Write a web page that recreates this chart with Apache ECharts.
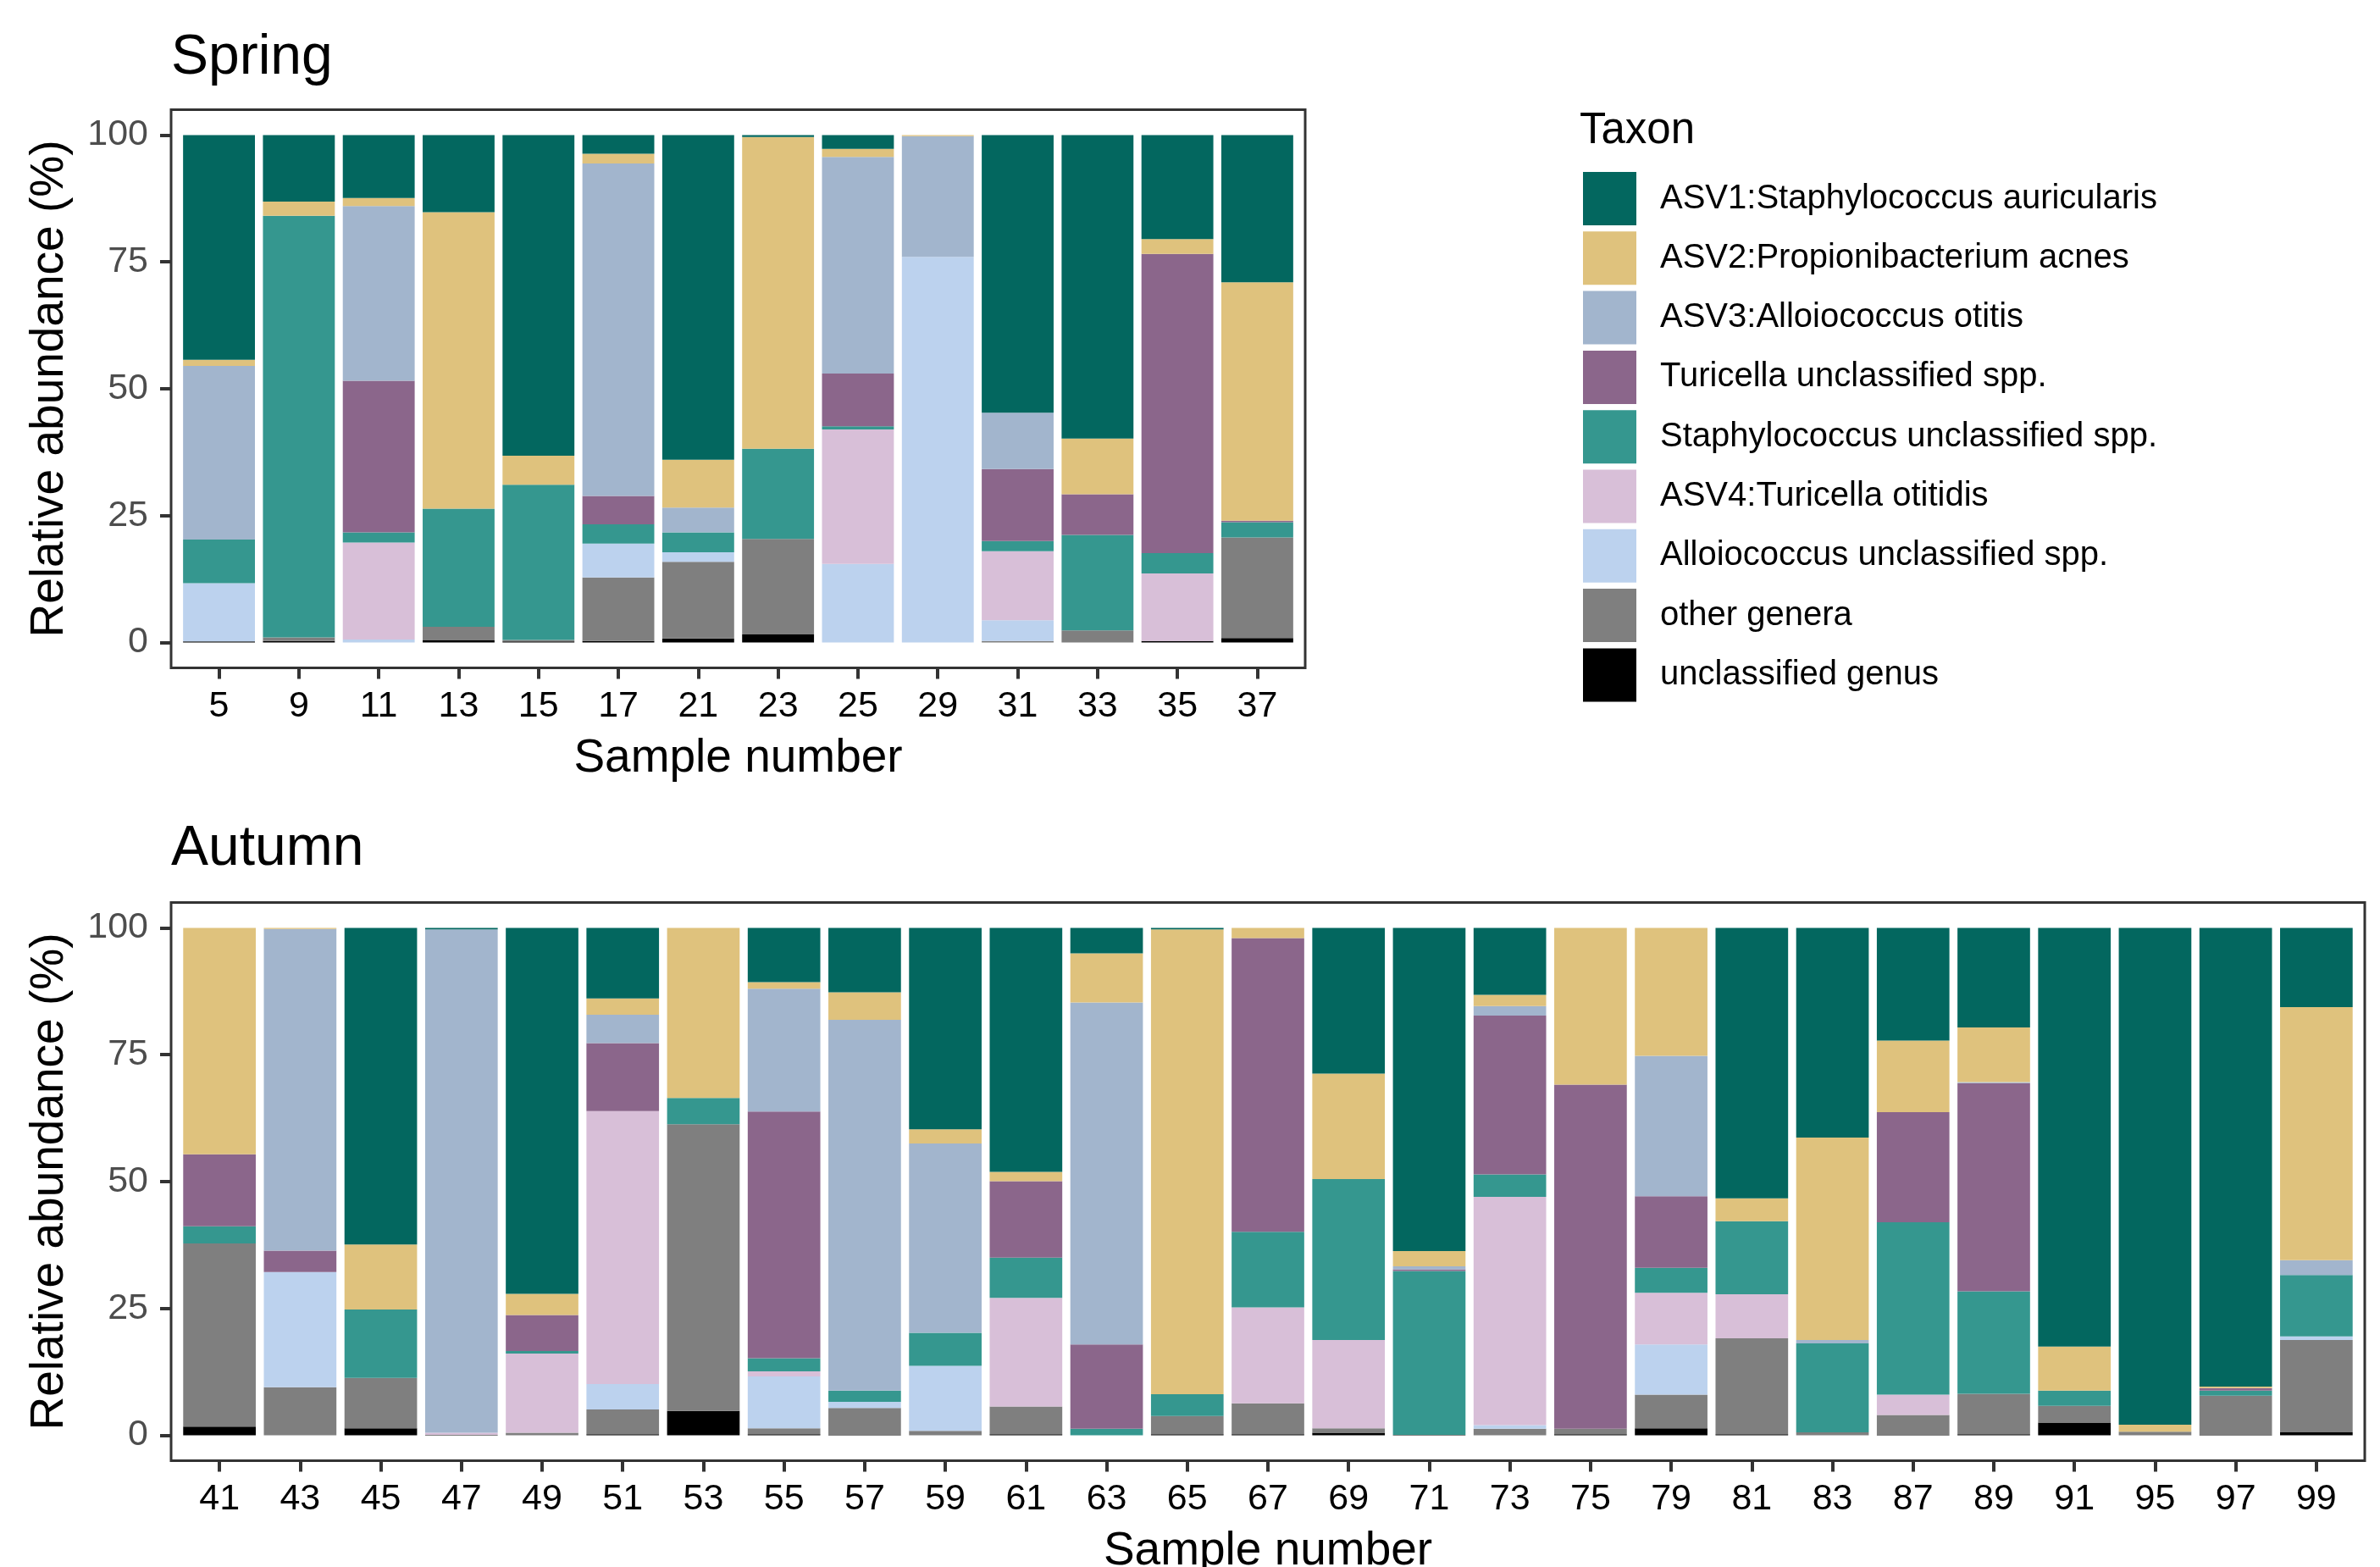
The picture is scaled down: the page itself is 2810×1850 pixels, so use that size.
<!DOCTYPE html>
<html>
<head>
<meta charset="utf-8">
<title>Relative abundance by sample</title>
<script src="https://cdn.jsdelivr.net/npm/echarts@6/dist/echarts.min.js"></script>
<style>
  html, body { margin: 0; padding: 0; background: #fff; }
  #chart { width: 2810px; height: 1850px; }
</style>
</head>
<body>
<div id="chart"></div>
<script>
// legend order (top of the bar first)
const taxa = [
  "ASV1:Staphylococcus auricularis",
  "ASV2:Propionibacterium acnes",
  "ASV3:Alloiococcus otitis",
  "Turicella unclassified spp.",
  "Staphylococcus unclassified spp.",
  "ASV4:Turicella otitidis",
  "Alloiococcus unclassified spp.",
  "other genera",
  "unclassified genus"
];
const taxonColors = ["#03675F", "#DFC27D", "#A2B5CD", "#8B668B", "#35978F", "#D8BFD8", "#BCD2EE", "#7F7F7F", "#000000"];

const springSamples = ["5", "9", "11", "13", "15", "17", "21", "23", "25", "29", "31", "33", "35", "37"];
const springAsv1      = [44.3, 13.1, 12.4, 15.2, 63.2, 3.7, 64.0, 0.4, 2.7, 0, 54.7, 59.8, 20.5, 29.0];
const springAsv2      = [1.2, 2.8, 1.6, 58.4, 5.7, 1.9, 9.4, 61.4, 1.6, 0.2, 0, 11.0, 2.9, 47.0];
const springAsv3      = [34.2, 0, 34.4, 0, 0, 65.5, 4.9, 0, 42.7, 23.8, 11.1, 0, 0, 0];
const springTuricella = [0, 0, 29.9, 0, 0, 5.6, 0, 0, 10.4, 0, 14.2, 8.0, 59.0, 0.3];
const springStaph     = [8.6, 83.1, 2.0, 23.3, 30.6, 3.8, 3.9, 17.8, 0.6, 0, 2.0, 18.8, 4.0, 3.0];
const springAsv4      = [0, 0, 19.1, 0, 0, 0, 0, 0, 26.5, 0, 13.6, 0, 13.3, 0];
const springAllo      = [11.5, 0, 0.6, 0, 0, 6.7, 1.9, 0, 15.5, 76.0, 4.1, 0, 0, 0];
const springOther     = [0, 0.7, 0, 2.6, 0.3, 12.5, 15.1, 18.8, 0, 0, 0.3, 2.4, 0, 19.8];
const springUnclass   = [0.2, 0.3, 0, 0.5, 0.2, 0.3, 0.8, 1.6, 0, 0, 0, 0, 0.3, 0.9];

const autumnSamples = ["41", "43", "45", "47", "49", "51", "53", "55", "57", "59", "61", "63", "65", "67",
                       "69", "71", "73", "75", "79", "81", "83", "87", "89", "91", "95", "97", "99"];
const autumnAsv1      = [0, 0, 62.4, 0.3, 72.1, 13.9, 0, 10.7, 12.7, 39.7, 48.1, 5.0, 0.3, 0, 28.7, 63.7, 13.2, 0, 0, 53.3, 41.3, 22.2, 19.6, 82.5, 97.9, 90.4, 15.6];
const autumnAsv2      = [44.6, 0.2, 12.8, 0, 4.2, 3.2, 33.5, 1.3, 5.4, 2.8, 1.8, 9.7, 91.6, 2.0, 20.8, 3.0, 2.2, 30.9, 25.2, 4.5, 39.9, 14.1, 10.8, 8.7, 1.4, 0.3, 49.9];
const autumnAsv3      = [0, 63.4, 0, 99.2, 0, 5.6, 0, 24.2, 73.1, 37.3, 0, 67.4, 0, 0, 0, 0.6, 1.9, 0, 27.7, 0, 0.7, 0, 0.2, 0, 0, 0, 2.9];
const autumnTuricella = [14.2, 4.2, 0, 0, 7.1, 13.4, 0, 48.6, 0, 0, 15.1, 16.6, 0, 57.9, 0, 0.3, 31.3, 67.8, 14.1, 0, 0, 21.7, 41.0, 0, 0, 0.5, 0];
const autumnStaph     = [3.4, 0, 13.5, 0, 0.5, 0, 5.2, 2.6, 2.2, 6.5, 7.9, 1.3, 4.3, 14.9, 31.7, 32.3, 4.4, 0, 4.9, 14.4, 17.5, 34.0, 20.2, 3.0, 0, 1.0, 12.1];
const autumnAsv4      = [0, 0, 0, 0.4, 15.6, 53.8, 0, 1.0, 0, 0, 21.4, 0, 0, 18.9, 17.4, 0, 45.0, 0, 10.2, 8.7, 0, 4.0, 0, 0, 0, 0, 0];
const autumnAllo      = [0, 22.7, 0, 0, 0, 5.0, 0, 10.2, 1.2, 12.8, 0, 0, 0, 0, 0, 0, 0.7, 0, 9.9, 0, 0, 0, 0, 0, 0, 0, 0.7];
const autumnOther     = [36.1, 9.5, 9.9, 0, 0.5, 4.9, 56.5, 1.2, 5.3, 0.9, 5.5, 0, 3.6, 6.1, 0.9, 0, 1.3, 1.1, 6.6, 18.9, 0.6, 3.9, 8.0, 3.3, 0.7, 7.7, 18.2];
const autumnUnclass   = [1.7, 0, 1.4, 0.1, 0, 0.2, 4.8, 0.2, 0.1, 0, 0.2, 0, 0.2, 0.2, 0.5, 0.1, 0, 0.2, 1.4, 0.2, 0, 0.1, 0.2, 2.5, 0, 0.1, 0.6];

const yTicks = [0, 25, 50, 75, 100];

// same order as taxa
const springValues = [springAsv1, springAsv2, springAsv3, springTuricella, springStaph, springAsv4, springAllo, springOther, springUnclass];
const autumnValues = [autumnAsv1, autumnAsv2, autumnAsv3, autumnTuricella, autumnStaph, autumnAsv4, autumnAllo, autumnOther, autumnUnclass];

const FONT = '"Liberation Sans", Arial, Helvetica, sans-serif';
const INK = "#333333";

// panel frames (ggplot panel border), data area sits inside with ggplot's default expansion
const springFrame = { left: 202, right: 1541, top: 129.5, bottom: 788.5 };
const autumnFrame = { left: 202, right: 2792, top: 1065.5, bottom: 1724.5 };

function buildPanel(frame, samples, values, idx) {
  const ux = (frame.right - frame.left) / (samples.length + 0.2);
  const uy = (frame.bottom - frame.top) / (yTicks[yTicks.length - 1] - yTicks[0] + 10);
  const padX = 0.1 * ux, padY = 5 * uy;

  const grid = {
    left: frame.left + padX,
    top: frame.top + padY,
    width: frame.right - frame.left - 2 * padX,
    height: frame.bottom - frame.top - 2 * padY,
    containLabel: false,
    outerBoundsMode: "none"
  };
  const xAxis = {
    type: "category", gridIndex: idx, data: samples, offset: padY,
    axisLine: { show: false, onZero: false },
    axisTick: { show: true, alignWithLabel: true, interval: 0, length: 13, lineStyle: { color: INK, width: 4 } },
    axisLabel: { interval: 0, margin: 24, color: "#000", fontSize: 43, fontFamily: FONT, hideOverlap: false },
    splitLine: { show: false },
    name: "Sample number", nameLocation: "middle", nameGap: 80, nameMoveOverlap: false,
    nameTextStyle: { fontSize: 55, color: "#000", fontFamily: FONT }
  };
  const yAxis = {
    type: "value", gridIndex: idx, min: yTicks[0], max: yTicks[yTicks.length - 1],
    interval: yTicks[1] - yTicks[0], offset: padX,
    axisLine: { show: false, onZero: false },
    axisTick: { show: true, length: 13, lineStyle: { color: INK, width: 4 } },
    axisLabel: { margin: 27, color: "#4D4D4D", fontSize: 43, fontFamily: FONT },
    splitLine: { show: false },
    name: "Relative abundance (%)", nameLocation: "middle", nameGap: 116, nameMoveOverlap: false,
    nameTextStyle: { fontSize: 55, color: "#000", fontFamily: FONT }
  };
  // stack from the bottom: last taxon first
  const series = [];
  for (let i = taxa.length - 1; i >= 0; i--) {
    series.push({
      name: taxa[i], type: "bar", stack: "s" + idx,
      xAxisIndex: idx, yAxisIndex: idx,
      barWidth: "90%",
      data: values[i],
      itemStyle: { color: taxonColors[i] },
      emphasis: { disabled: true }
    });
  }
  const border = {
    type: "rect", silent: true, z: 100,
    shape: { x: frame.left, y: frame.top, width: frame.right - frame.left, height: frame.bottom - frame.top },
    style: { fill: "none", stroke: INK, lineWidth: 3 }
  };
  return { grid, xAxis, yAxis, series, border };
}

const spring = buildPanel(springFrame, springSamples, springValues, 0);
const autumn = buildPanel(autumnFrame, autumnSamples, autumnValues, 1);

const chart = echarts.init(document.getElementById("chart"), null, { renderer: "canvas" });

const titleStyle = { fontSize: 66, fontWeight: "normal", color: "#000", fontFamily: FONT };

const option = {
  animation: false,
  backgroundColor: "#fff",
  title: [
    { text: "Spring", left: 202, top: 36, padding: 0, textStyle: titleStyle },
    { text: "Autumn", left: 202, top: 970, padding: 0, textStyle: titleStyle },
    { text: "Taxon", left: 1865, top: 129, padding: 0,
      textStyle: { fontSize: 51, fontWeight: "normal", color: "#000", fontFamily: FONT } }
  ],
  legend: {
    orient: "vertical", left: 1869, top: 203, padding: 0,
    itemWidth: 63, itemHeight: 63, itemGap: 7.3,
    icon: "rect", selectedMode: false,
    data: taxa,
    itemStyle: { borderWidth: 0 },
    textStyle: { fontSize: 40, color: "#000", fontFamily: FONT, padding: [0, 0, 0, 23] }
  },
  grid: [spring.grid, autumn.grid],
  xAxis: [spring.xAxis, autumn.xAxis],
  yAxis: [spring.yAxis, autumn.yAxis],
  series: spring.series.concat(autumn.series),
  graphic: [spring.border, autumn.border]
};

chart.setOption(option);
window.addEventListener("resize", () => chart.resize());
</script>
</body>
</html>
